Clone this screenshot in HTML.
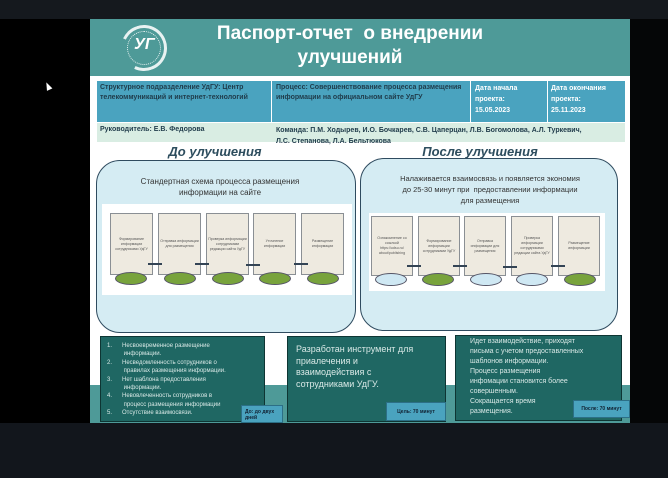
<!DOCTYPE html>
<html><head><meta charset="utf-8"><style>
*{margin:0;padding:0;box-sizing:border-box}
body{width:668px;height:478px;background:#000;position:relative;overflow:hidden;font-family:"Liberation Sans","DejaVu Sans",sans-serif}
div{position:absolute}
.t{font-size:7px;color:#1f3b4a;line-height:10px;white-space:nowrap}
.b{font-weight:bold}
.box{background:#eeeae0;border:1px solid #8a8f94;font-size:3.6px;color:#555;display:flex;align-items:center;justify-content:center;text-align:center;line-height:5px;padding:1px}
.el{height:13px;border-radius:50%;border:1px solid #556;}
.g{background:#78a33c}.l{background:#cfe8f3}
.ln{height:2px;background:#345;width:14px}
.lab{background:#4aa3bf;border:1px solid #2c6f86;font-size:5px;font-weight:bold;color:#123;padding:3px}
.dk{background:#1f6763;border:1px solid #0e3533;color:#d8e8e6;white-space:nowrap}
</style></head><body>
<div style="left:0;top:0;width:668px;height:19px;background:#15191e"></div>
<div style="left:630px;top:19px;width:38px;height:404px;background:#050607"></div>
<div style="left:0;top:423px;width:668px;height:55px;background:#12161c"></div>
<div style="left:90px;top:19px;width:540px;height:404px;background:#fff"></div>
<div style="left:90px;top:19px;width:540px;height:57px;background:#4e9a98"></div>
<div style="left:121px;top:25px;width:46px;height:46px;border-radius:50%;border:3px solid #e8f2f2;border-left-color:transparent;transform:rotate(-20deg)"></div>
<div style="left:127px;top:31px;width:34px;height:34px;border-radius:50%;border:1px dotted #e8f2f2"></div>
<div style="left:134px;top:36px;color:#fff;font-size:16px;font-style:italic;font-weight:bold">УГ</div>
<div style="left:190px;top:22px;width:320px;text-align:center;color:#fff;font-weight:bold;font-size:19px;line-height:24px">Паспорт-отчет&nbsp; о внедрении<br>улучшений</div>
<div style="left:97px;top:81px;width:528px;height:41px;background:#4aa3bf"></div>
<div style="left:97px;top:123px;width:528px;height:19px;background:#d9ede3"></div>
<div style="left:271px;top:81px;width:1px;height:41px;background:#fff"></div>
<div style="left:470px;top:81px;width:1px;height:41px;background:#fff"></div>
<div style="left:547px;top:81px;width:1px;height:41px;background:#fff"></div>
<div class="t b" style="left:100px;top:83px">Структурное подразделение УдГУ: Центр<br>телекоммуникаций и интернет-технологий</div>
<div class="t b" style="left:276px;top:83px">Процесс: Совершенствование процесса размещения<br>информации на официальном сайте УдГУ</div>
<div class="t b" style="left:475px;top:83px;color:#fff;line-height:11px">Дата начала<br>проекта:<br>15.05.2023</div>
<div class="t b" style="left:551px;top:83px;color:#fff;line-height:11px">Дата окончания<br>проекта:<br>25.11.2023</div>
<div class="t b" style="left:100px;top:125px">Руководитель: Е.В. Федорова</div>
<div class="t b" style="left:276px;top:125px;line-height:11px">Команда: П.М. Ходырев, И.О. Бочкарев, С.В. Цаперцан, Л.В. Богомолова, А.Л. Туркевич,<br>Л.С. Степанова, Л.А. Бельтюкова</div>
<div style="left:140px;top:144px;width:150px;text-align:center;font-size:13px;font-style:italic;font-weight:bold;color:#2d4d5e">До улучшения</div>
<div style="left:405px;top:144px;width:150px;text-align:center;font-size:13px;font-style:italic;font-weight:bold;color:#2d4d5e">После улучшения</div>
<div style="left:96px;top:160px;width:260px;height:173px;background:#d5ecf3;border:1.5px solid #2f4b5f;border-radius:24px"></div>
<div style="left:360px;top:158px;width:258px;height:173px;background:#d5ecf3;border:1.5px solid #2f4b5f;border-radius:24px"></div>
<div style="left:110px;top:176px;width:220px;text-align:center;font-size:8px;line-height:11px;color:#333">Стандертная схема процесса размещения<br>информации на сайте</div>
<div style="left:375px;top:173px;width:230px;text-align:center;font-size:7.5px;line-height:11px;color:#333">Налаживается взаимосвязь и появляется экономия<br>до 25-30 минут при&nbsp; предоставлении информации<br>для размещения</div>
<div style="left:102px;top:204px;width:250px;height:91px;background:#fff"></div>
<div style="left:369px;top:213px;width:236px;height:78px;background:#fff"></div>
<div class="box" style="left:110px;top:213px;width:43px;height:62px">Формирование информации сотрудниками УдГУ</div>
<div class="box" style="left:158px;top:213px;width:43px;height:62px">Отправка информации для размещения</div>
<div class="box" style="left:206px;top:213px;width:43px;height:62px">Проверка информации сотрудниками редакции сайта УдГУ</div>
<div class="box" style="left:253px;top:213px;width:43px;height:62px">Уточнение информации</div>
<div class="box" style="left:301px;top:213px;width:43px;height:62px">Размещение информации</div>
<div class="el g" style="left:115px;top:272px;width:32px"></div>
<div class="el g" style="left:164px;top:272px;width:32px"></div>
<div class="el g" style="left:212px;top:272px;width:32px"></div>
<div class="el g" style="left:259px;top:272px;width:32px"></div>
<div class="el g" style="left:307px;top:272px;width:32px"></div>
<div class="ln" style="left:148px;top:263px"></div>
<div class="ln" style="left:195px;top:263px"></div>
<div class="ln" style="left:246px;top:264px"></div>
<div class="ln" style="left:294px;top:263px"></div>
<div class="box" style="left:371px;top:216px;width:42px;height:60px">Ознакомление со ссылкой https://udsu.ru/ about/publishing</div>
<div class="box" style="left:418px;top:216px;width:42px;height:60px">Формирование информации сотрудниками УдГУ</div>
<div class="box" style="left:464px;top:216px;width:42px;height:60px">Отправка информации для размещения</div>
<div class="box" style="left:511px;top:216px;width:42px;height:60px">Проверка информации сотрудниками редакции сайта УдГУ</div>
<div class="box" style="left:558px;top:216px;width:42px;height:60px">Размещение информации</div>
<div class="el l" style="left:375px;top:273px;width:32px"></div>
<div class="el g" style="left:422px;top:273px;width:32px"></div>
<div class="el l" style="left:470px;top:273px;width:32px"></div>
<div class="el l" style="left:516px;top:273px;width:32px"></div>
<div class="el g" style="left:564px;top:273px;width:32px"></div>
<div class="ln" style="left:407px;top:265px"></div>
<div class="ln" style="left:453px;top:265px"></div>
<div class="ln" style="left:503px;top:266px"></div>
<div class="ln" style="left:551px;top:265px"></div>
<div style="left:90px;top:385px;width:540px;height:38px;background:#4e9a98"></div>
<div class="dk" style="left:100px;top:336px;width:165px;height:86px;font-size:6px;line-height:8.4px;padding:5px 4px 0 6px">
<div style="position:static">1.&nbsp;&nbsp;&nbsp;&nbsp;&nbsp;&nbsp;Несвоевременное размещение<br>&nbsp;&nbsp;&nbsp;&nbsp;&nbsp;&nbsp;&nbsp;&nbsp;&nbsp;&nbsp;информации.<br>2.&nbsp;&nbsp;&nbsp;&nbsp;&nbsp;&nbsp;Несведомленность сотрудников о<br>&nbsp;&nbsp;&nbsp;&nbsp;&nbsp;&nbsp;&nbsp;&nbsp;&nbsp;&nbsp;правилах размещения информации.<br>3.&nbsp;&nbsp;&nbsp;&nbsp;&nbsp;&nbsp;Нет шаблона предоставления<br>&nbsp;&nbsp;&nbsp;&nbsp;&nbsp;&nbsp;&nbsp;&nbsp;&nbsp;&nbsp;информации.<br>4.&nbsp;&nbsp;&nbsp;&nbsp;&nbsp;&nbsp;Невовлеченность сотрудников в<br>&nbsp;&nbsp;&nbsp;&nbsp;&nbsp;&nbsp;&nbsp;&nbsp;&nbsp;&nbsp;процесс размещения информации<br>5.&nbsp;&nbsp;&nbsp;&nbsp;&nbsp;&nbsp;Отсутствие взаимосвязи.</div></div>
<div class="lab" style="left:241px;top:405px;width:42px;height:18px">До: до двух дней</div>
<div class="dk" style="left:287px;top:336px;width:159px;height:86px;font-size:9px;line-height:11.7px;padding:7px 8px">Разработан инструмент для<br>приалечения и<br>взаимодействия с<br>сотрудниками УдГУ.</div>
<div class="lab" style="left:386px;top:402px;width:60px;height:19px;padding-top:6px;text-align:center">Цель: 70 минут</div>
<div class="dk" style="left:455px;top:335px;width:167px;height:86px;font-size:7px;line-height:10px;padding:1px 8px 0 14px">Идет взаимодействие, приходят<br>письма с учетом предоставленных<br>шаблонов информации.<br>Процесс размещения<br>инфомации становится более<br>совершенным.<br>Сокращается время<br>размещения.</div>
<div class="lab" style="left:573px;top:400px;width:57px;height:18px;padding-top:5px;text-align:center">После: 70 минут</div>
<div style="left:45px;top:82px;width:0;height:0;border-left:3px solid transparent;border-right:3px solid transparent;border-bottom:8px solid #fff;transform:rotate(-25deg)"></div>
</body></html>
